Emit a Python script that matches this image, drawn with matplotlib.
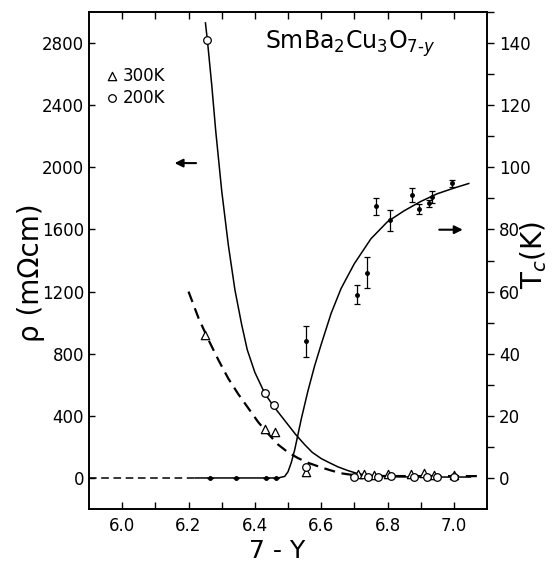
import numpy as np
import matplotlib.pyplot as plt

# rho at 200 K (open circles) and 300 K (open triangles), left axis
x_200 = [6.257, 6.430, 6.457, 6.553, 6.70, 6.74, 6.77, 6.81, 6.88, 6.92, 6.95, 7.00]
rho_200 = [2820, 544, 468, 68, 8, 5, 8, 10, 6, 4, 8, 6]
x_300 = [6.25, 6.431, 6.460, 6.553, 6.71, 6.73, 6.76, 6.80, 6.87, 6.91, 6.94, 7.00]
rho_300 = [920, 314, 293, 36, 25, 28, 22, 24, 26, 30, 22, 20]

# Tc points with error bars, right axis
x_tc = [6.265, 6.344, 6.435, 6.463, 6.553, 6.709, 6.737, 6.766, 6.807, 6.873, 6.896, 6.926, 6.935, 6.995]
tc = [0, 0, 0, 0, 44, 59, 66, 87.5, 83, 91, 86.6, 88.4, 90.5, 94.8]
tc_err = [0, 0, 0, 0, 5, 3, 5, 2.7, 3.4, 2.3, 1.6, 1.2, 2, 1.1]

# hand-drawn fit curves
fit200_x = [6.251, 6.257, 6.27, 6.282, 6.30, 6.32, 6.34, 6.36, 6.377, 6.40, 6.43, 6.457,
            6.49, 6.523, 6.55, 6.573, 6.60, 6.623, 6.65, 6.68, 6.71, 6.75, 6.80, 6.90, 7.05]
fit200_y = [2930, 2816, 2530, 2235, 1850, 1500, 1210, 990, 826, 680, 544, 460,
            370, 280, 215, 165, 125, 100, 72, 48, 28, 14, 8, 6, 6]
fit300_x = [6.20, 6.23, 6.26, 6.29, 6.32, 6.35, 6.38, 6.41, 6.44, 6.47, 6.50, 6.53,
            6.56, 6.60, 6.63, 6.66, 6.70, 6.75, 6.85, 7.08]
fit300_y = [1200, 1030, 890, 760, 640, 540, 450, 360, 285, 215, 165, 128,
            98, 68, 48, 30, 18, 13, 12, 12]
fittc_x = [6.22, 6.47, 6.49, 6.50, 6.51, 6.52, 6.54, 6.56, 6.58, 6.60, 6.63, 6.66, 6.70,
           6.75, 6.80, 6.85, 6.90, 6.95, 7.00, 7.045]
fittc_y = [0, 0, 0.5, 2, 5, 9, 19, 28, 36, 43, 53, 61, 69,
           77, 82.5, 86, 89, 91.5, 93.3, 94.8]
zero_x = [5.9, 6.22]
zero_y = [0, 0]

x_ticks = [6.0, 6.2, 6.4, 6.6, 6.8, 7.0]
rho_ticks = [0, 400, 800, 1200, 1600, 2000, 2400, 2800]
tc_ticks = [0, 20, 40, 60, 80, 100, 120, 140]

plt.rcParams["font.family"] = ["DejaVu Sans"]

fig = plt.figure(figsize=(5.55, 5.69), dpi=100)
ax = fig.add_axes([0.1604, 0.1054, 0.7171, 0.8735])
ax2 = ax.twinx()

ax.plot(fit200_x, fit200_y, color="black", lw=1.1)
ax.plot(fit300_x, fit300_y, color="black", lw=1.6, ls=(0, (5, 3)))
ax.scatter(x_300, rho_300, marker="^", s=36, facecolor="white", edgecolor="black", lw=0.9, zorder=3)
ax.scatter(x_200, rho_200, marker="o", s=30, facecolor="white", edgecolor="black", lw=0.9, zorder=3)

ax2.plot(fittc_x, fittc_y, color="black", lw=1.1)
ax2.plot(zero_x, zero_y, color="black", lw=1.1, ls=(0, (5, 3)))
ax2.errorbar(x_tc, tc, yerr=tc_err, fmt="o", ms=2.5, color="black", ecolor="black",
             elinewidth=0.9, capsize=2.5, capthick=0.9, zorder=4)

ax.set_xlim(5.9, 7.1)
ax.set_ylim(-200, 3000)
ax2.set_ylim(-10, 150)

ax.set_xticks(x_ticks)
ax.set_xticklabels(["6.0", "6.2", "6.4", "6.6", "6.8", "7.0"])
ax.set_xticks(np.arange(6.0, 7.05, 0.1), minor=True)
ax.set_yticks(rho_ticks)
ax2.set_yticks(tc_ticks)
ax2.set_yticks(np.arange(0, 151, 10), minor=True)

ax.tick_params(axis="x", which="both", direction="in", top=True, length=5, width=1, labelsize=12, pad=6)
ax.tick_params(axis="y", which="both", direction="in", length=4, width=1, labelsize=12)
ax2.tick_params(axis="y", which="both", direction="out", length=5, width=1, labelsize=12)
for a in (ax, ax2):
    for s in a.spines.values():
        s.set_linewidth(1.2)

ax.text(0.442, 0.937, "SmBa$_2$Cu$_3$O$_{7\\text{-}y}$", transform=ax.transAxes, fontsize=17,
        va="center")
ax.scatter([0.058], [0.871], marker="^", s=36, facecolor="white", edgecolor="black", lw=0.9,
           transform=ax.transAxes, clip_on=False)
ax.scatter([0.058], [0.826], marker="o", s=30, facecolor="white", edgecolor="black", lw=0.9,
           transform=ax.transAxes, clip_on=False)
ax.text(0.085, 0.871, "300K", transform=ax.transAxes, fontsize=12, va="center")
ax.text(0.085, 0.826, "200K", transform=ax.transAxes, fontsize=12, va="center")

ax.annotate("", xy=(0.208, 0.696), xytext=(0.276, 0.696), xycoords="axes fraction",
            arrowprops=dict(arrowstyle="-|>", color="black", lw=1.5, mutation_scale=12))
ax.annotate("", xy=(0.946, 0.562), xytext=(0.873, 0.562), xycoords="axes fraction",
            arrowprops=dict(arrowstyle="-|>", color="black", lw=1.5, mutation_scale=12))

fig.text(0.055, 0.52, "ρ (mΩcm)", rotation=90, fontsize=20, ha="center", va="center")
fig.text(0.962, 0.552, "T$_c$(K)", rotation=90, fontsize=20, ha="center", va="center")
fig.text(0.50, 0.032, "7 - Y", fontsize=18, ha="center", va="center")

fig.savefig("out.png", dpi=100)
